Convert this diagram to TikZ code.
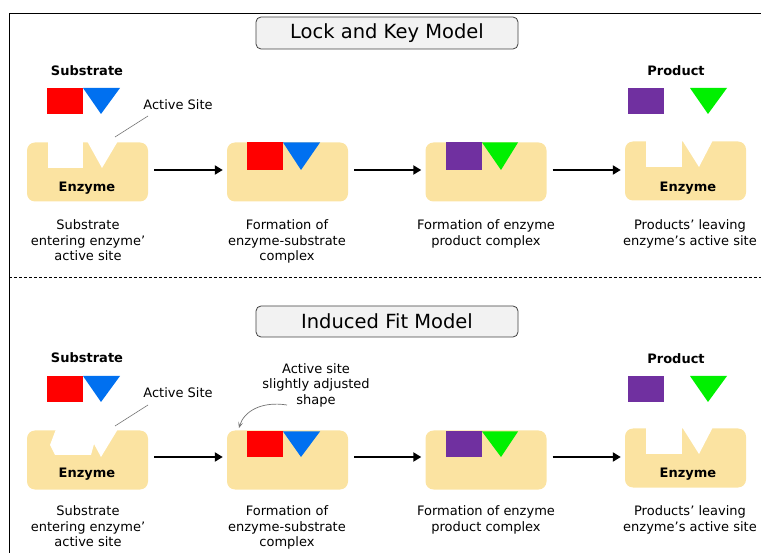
\documentclass[tikz,border=0pt]{standalone}
\usepackage{fontspec}
\setmainfont{DejaVu Sans}
\usetikzlibrary{arrows.meta}
\definecolor{enz}{HTML}{FBE3A1}
\definecolor{sred}{HTML}{FF0000}
\definecolor{sblue}{HTML}{0070F0}
\definecolor{ppurple}{HTML}{7030A0}
\definecolor{pgreen}{HTML}{00F000}
\definecolor{boxfill}{HTML}{F2F2F2}

\begin{document}
\begin{tikzpicture}[x=1pt,y=-1pt,>={Triangle[length=8pt,width=9pt]},
	enzyme/.style={fill=enz, rounded corners=8pt, minimum width=121pt, minimum height=59pt, inner sep=0pt},
	titlebox/.style={draw=black!75, line width=0.8pt, fill=boxfill, rounded corners=5pt, minimum width=262pt, minimum height=32pt, font=\fontsize{19.5}{22}\selectfont},
	bold/.style={inner sep=0pt, font=\fontsize{13}{15}\selectfont\bfseries},
	caption/.style={inner sep=0pt, anchor=north, align=center, font=\fontsize{13}{15.5}\selectfont},
	flow/.style={->, line width=2.6pt, shorten <=6pt, shorten >=4pt},
	pointer/.style={draw=black!55, line width=0.6pt}]
	\useasboundingbox (0,0) rectangle (761,553);
	% frame and divider
	\draw[line width=0.8pt] (9,553) -- (9,13) -- (761,13);
	\draw[line width=0.8pt, dash pattern=on 3pt off 2pt] (9,277) -- (761,277);

	% ---- lock and key ----
	\node[titlebox] (lk) at (387,33) {Lock and Key Model};
	\node[bold] (sub1) at (87,71) {Substrate};
	\fill[sred] (47,88) rectangle (83,114); \fill[sblue] (83,88) -- (120,88) -- (101,114) -- cycle;
	\node[enzyme] (e1) at (87.5,172) {}; \fill[white] (48,141) rectangle (83,168); \fill[white] (87,141) -- (102,168) -- (118,141) -- cycle;
	\node[bold] (n1) at (87,188) {Enzyme};
	\node[caption, anchor=center] (as1) at (178,105) {Active Site}; \coordinate (asp1) at (115,137); \draw[pointer] (148,116) -- (asp1);
	\node[caption] (c1) at (88,219.5) {Substrate\\entering enzyme’\\active site};

	\node[enzyme] (e2) at (287.5,172) {}; \fill[sred] (247,142.5) rectangle (283,170); \fill[sblue] (283,142.5) -- (320,142.5) -- (301,170) -- cycle;
	\node[caption] (c2) at (287,219.5) {Formation of\\enzyme-substrate\\complex};

	\node[enzyme] (e3) at (486,172) {}; \fill[ppurple] (446,142.5) rectangle (482,170); \fill[pgreen] (482,142.5) -- (518,142.5) -- (501,170) -- cycle;
	\node[caption] (c3) at (486,219.5) {Formation of enzyme\\product complex};

	\node[bold] (pr1) at (676,71) {Product};
	\fill[ppurple] (628,88) rectangle (664,114); \fill[pgreen] (690,88) -- (727,88) -- (708,114) -- cycle;
	\node[enzyme] (e4) at (685.5,171) {}; \fill[white] (646,140) rectangle (682,167); \fill[white] (682,140) -- (699,167) -- (713,140) -- cycle;
	\node[bold] (n4) at (688,188) {Enzyme};
	\node[caption] (c4) at (690,219.5) {Products’ leaving\\enzyme’s active site};

	\draw[flow] ([yshift=2pt]e1.east) -- ([yshift=2pt]e2.west); \draw[flow] ([yshift=2pt]e2.east) -- ([yshift=2pt]e3.west); \draw[flow] ([yshift=2pt]e3.east) -- ([yshift=2pt]e3.east -| e4.west);

	% ---- induced fit ----
	\node[titlebox, minimum height=31pt] (if) at (387,321.5) {Induced Fit Model};
	\node[bold] (sub2) at (87,358) {Substrate};
	\fill[sred] (47,376) rectangle (83,402); \fill[sblue] (83,376) -- (120,376) -- (101,402) -- cycle;
	\node[enzyme] (e5) at (87.5,460) {}; \fill[white] (56,429) -- (50,445) -- (55,455) -- (91,455) -- (94,444) -- (101,457) -- (118,429) -- cycle;
	\node[bold] (n5) at (87,474) {Enzyme};
	\node[caption, anchor=center] (as2) at (178,393) {Active Site}; \coordinate (asp2) at (115,426); \draw[pointer] (148,405) -- (asp2);
	\node[caption] (c5) at (88,505.5) {Substrate\\entering enzyme’\\active site};

	\node[enzyme] (e6) at (287.5,460) {}; \fill[sred] (247,431.5) rectangle (283,457); \fill[sblue] (283,431.5) -- (320,431.5) -- (301,457) -- cycle;
	\node[caption] (adj) at (316,363) {Active site\\slightly adjusted\\shape};
	\coordinate (adjs) at (287,405); \coordinate (adje) at (239,428);
	\draw[pointer, line width=0.7pt, -{Stealth[length=6pt,width=5pt,inset=3pt]}] (adjs) .. controls (262,401) and (244,411) .. (adje);
	\node[caption] (c6) at (287,505.5) {Formation of\\enzyme-substrate\\complex};

	\node[enzyme] (e7) at (486,460) {}; \fill[ppurple] (446,431.5) rectangle (482,457); \fill[pgreen] (482,431.5) -- (518,431.5) -- (501,457) -- cycle;
	\node[caption] (c7) at (486,505.5) {Formation of enzyme\\product complex};

	\node[bold] (pr2) at (676,359) {Product};
	\fill[ppurple] (628,376) rectangle (664,402); \fill[pgreen] (690,376) -- (727,376) -- (708,402) -- cycle;
	\node[enzyme] (e8) at (685.5,458) {}; \fill[white] (646,427) rectangle (682,454); \fill[white] (682,427) -- (699,454) -- (713,427) -- cycle;
	\node[bold] (n8) at (688,474) {Enzyme};
	\node[caption] (c8) at (690,505.5) {Products’ leaving\\enzyme’s active site};

	\draw[flow] ([yshift=3pt]e5.east) -- ([yshift=3pt]e6.west); \draw[flow] ([yshift=3pt]e6.east) -- ([yshift=3pt]e7.west); \draw[flow] ([yshift=3pt]e7.east) -- ([yshift=3pt]e7.east -| e8.west);
\end{tikzpicture}
\end{document}
